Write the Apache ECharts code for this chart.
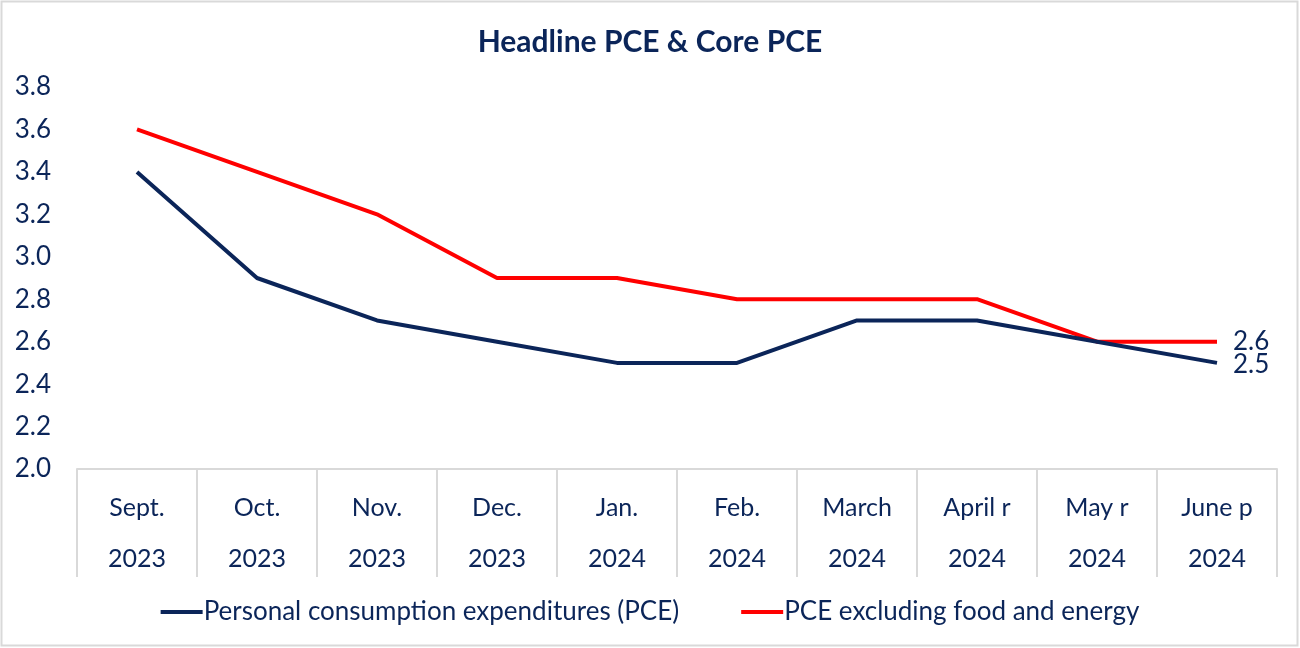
<!DOCTYPE html>
<html><head><meta charset="utf-8">
<script src="https://cdn.jsdelivr.net/npm/echarts@6/dist/echarts.min.js"></script>
<style>html,body{margin:0;padding:0;background:#fff}#c{width:1300px;height:648px}</style>
</head><body><div id="c"></div>
<script>
const categories = ["Sept.\n2023","Oct.\n2023","Nov.\n2023","Dec.\n2023","Jan.\n2024","Feb.\n2024","March\n2024","April r\n2024","May r\n2024","June p\n2024"];
const pce = [3.4, 2.9, 2.7, 2.6, 2.5, 2.5, 2.7, 2.7, 2.6, 2.5];
const corePce = [3.6, 3.4, 3.2, 2.9, 2.9, 2.8, 2.8, 2.8, 2.6, 2.6];
const seriesNames = ["Personal consumption expenditures (PCE)", "PCE excluding food and energy"];
const yTicks = {min: 2.0, max: 3.8, interval: 0.2};

const NAVY = '#0b2559';
const FONT = 'Lato, "Open Sans", sans-serif';
const chart = echarts.init(document.getElementById('c'));
function endLbl(offsetY){
  return {show:true, distance:16, offset:[0,offsetY], color:NAVY, fontFamily:FONT, fontSize:26,
    formatter: p => Number(p.value).toFixed(1)};
}
chart.setOption({
  animation:false,
  textStyle:{fontFamily:FONT},
  graphic:[{type:'rect', shape:{x:1.5,y:1.5,width:1296,height:644}, style:{fill:'none', stroke:'#d9d9d9', lineWidth:2}, z:-1}],
  title:{text:'Headline PCE & Core PCE', left:'center', top:22, textStyle:{color:NAVY, fontSize:30, fontWeight:'bold', fontFamily:FONT}},
  grid:{left:77, right:23, top:87, bottom:179},
  legend:{left:'center', top:594, itemWidth:42, itemHeight:4, itemGap:62, icon:'rect',
    textStyle:{color:NAVY, fontSize:26, fontFamily:FONT, padding:[0,0,0,-4]},
    data:seriesNames},
  xAxis:{type:'category', data:categories, boundaryGap:true,
    axisLine:{lineStyle:{color:'#d9d9d9', width:2}},
    axisTick:{show:true, length:108, lineStyle:{color:'#d9d9d9', width:2}},
    axisLabel:{color:NAVY, fontSize:25, lineHeight:51, margin:13, fontFamily:FONT, interval:0}},
  yAxis:{type:'value', min:yTicks.min, max:yTicks.max, interval:yTicks.interval,
    axisLine:{show:false}, axisTick:{show:false}, splitLine:{show:false},
    axisLabel:{color:NAVY, fontSize:26, margin:26, fontFamily:FONT, formatter:v=>v.toFixed(1)}},
  series:[
    {name:seriesNames[0], type:'line', data:pce, symbol:'none', lineStyle:{color:NAVY, width:4}, itemStyle:{color:NAVY}, endLabel:endLbl(2), z:3},
    {name:seriesNames[1], type:'line', data:corePce, symbol:'none', lineStyle:{color:'#ff0000', width:4}, itemStyle:{color:'#ff0000'}, endLabel:endLbl(0), z:2}
  ]
});
</script></body></html>
